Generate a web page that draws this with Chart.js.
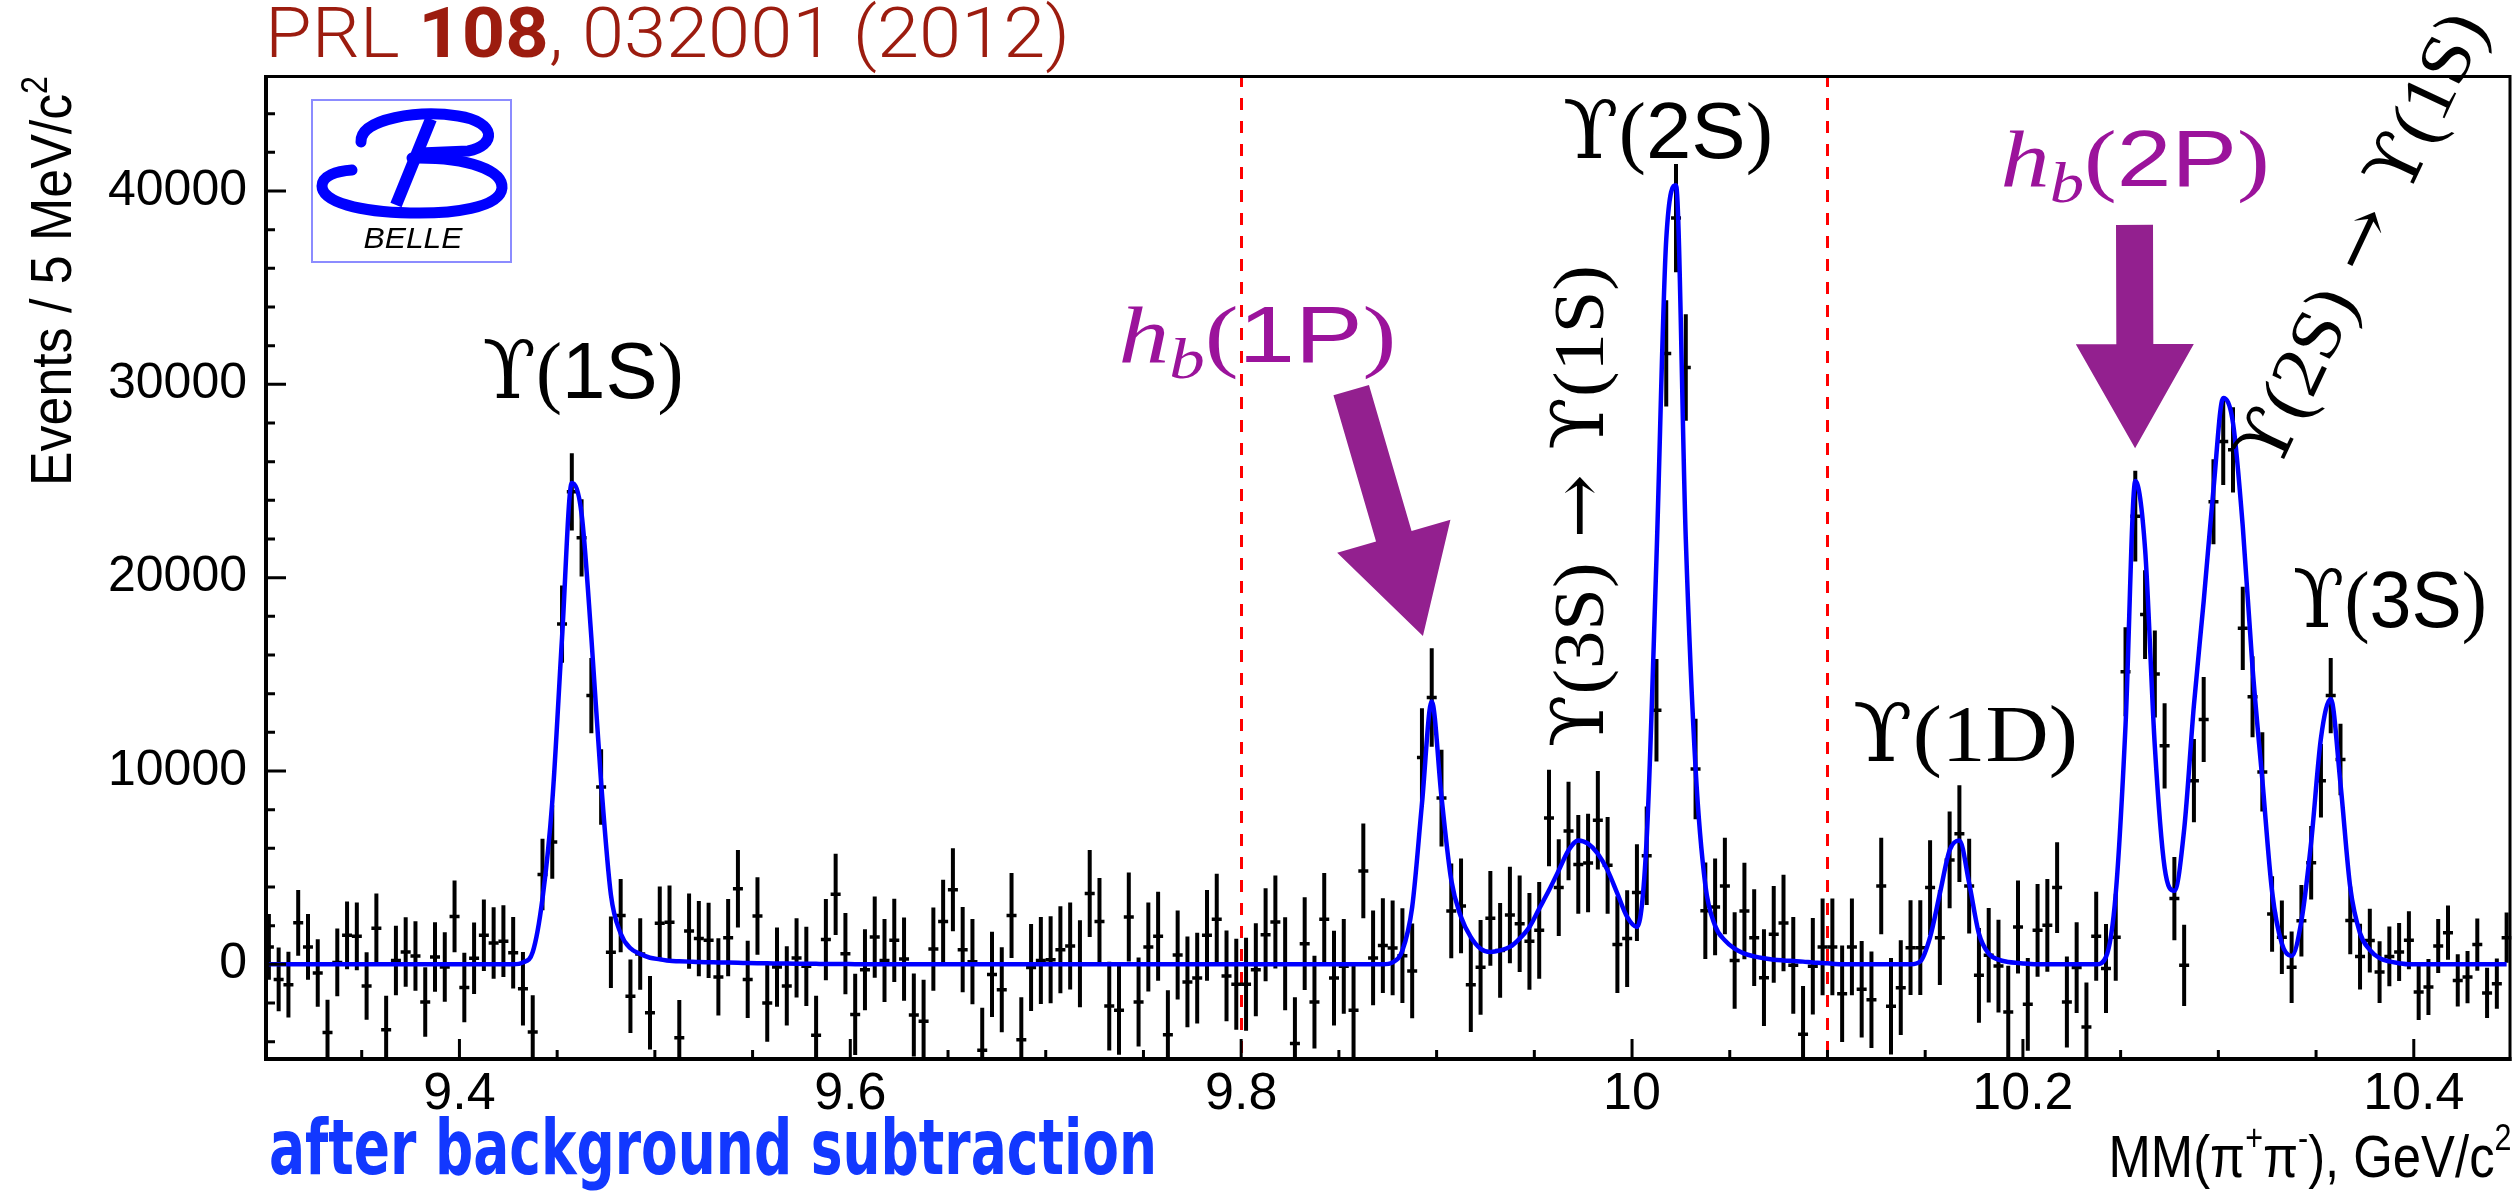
<!DOCTYPE html>
<html>
<head>
<meta charset="utf-8">
<script src="https://cdn.jsdelivr.net/npm/chart.js@4.4.1/dist/chart.umd.min.js"></script>
<style>
  html, body { margin: 0; padding: 0; background: #fff; }
  #wrap { width: 2520px; height: 1191px; position: relative; }
</style>
</head>
<body>
<div id="wrap"><canvas id="Chart"></canvas></div>
<script>
// MM(pi+ pi-) spectrum after background subtraction, 5 MeV bins from 9.300 to 10.450 GeV/c2
const binStart = 9.3;
const binWidth = 0.005;

// events per bin
const events = [
  900, -780, -1050, 2150, 900, -450, -3530, 100, 1500, 1450,
  -1120, 1860, -3380, 200, 640, 430, -1950, 380, -140, 2480,
  -1200, 310, 1500, 1100, 1200, 600, -1260, -3500, 4650, 6330,
  17600, 24440, 22060, 13900, 9170, 630, 2520, -1650, 540, -2500,
  2120, 2180, -3800, 1720, 1330, 1240, -650, 1380, 3910, -780,
  2500, -2000, -140, -1120, 330, -100, -3670, 1280, 3620, 550,
  -2590, -280, 1410, 200, 1240, 270, -2620, -2950, 790, 2220,
  3860, 760, 140, -4450, -520, -1310, 2530, -3900, -170, 200,
  240, 760, 950, 30, 3660, 2220, -2160, -2380, 2450, -1950,
  900, 1450, -3640, 480, -910, -710, 1500, 2330, -600, -1030,
  -1030, -280, 1530, 2190, 30, -4100, 1070, -1950, 2330, -710,
  -100, -2380, 4830, 330, 970, 850, 450, -340, 10700, 13800,
  8600, 2760, 3020, -1050, -155, 2380, 720, 2550, 2100, 1190,
  1760, 7570, 3970, 6900, 5170, 5240, 7450, 5120, 1020, 1330,
  3710, 5620, 13140, 31600, 38600, 30870, 10100, 2770, 2970, 4050,
  200, 2760, 1380, -690, 1550, 2140, -50, -3620, -100, 900,
  900, -1520, 900, -1290, -1830, 4050, -2170, -1210, 860, 860,
  3970, 1380, 5400, 6760, 4050, -570, 470, -90, -2470, 1930,
  -2070, 1760, 2020, 3970, -1950, -170, -3240, 1450, -220, 1400,
  15130, 23180, 18090, 15020, 11300, 3400, -50, 9500, 12660, 23930,
  27040, 26610, 17380, 13840, 9950, 2600, 1400, -150, 2250, 5250,
  9500, 13900, 10600, 2270, 400, 1230, -400, 410, 640, 1240,
  -1430, -1170, 950, 1640, -830, -660, 1020, -1480, -1000, 1380
];

// half length of the error bars
const errors = [
  1700, 1650, 1700, 1700, 1700, 1750, 1700, 1750, 1750, 1750,
  1750, 1800, 1750, 1800, 1800, 1800, 1800, 1800, 1800, 1850,
  1800, 1850, 1850, 1850, 1850, 1850, 1900, 1900, 1850, 1900,
  2000, 2000, 2000, 1950, 1950, 1850, 1900, 1900, 1850, 1900,
  1900, 1900, 1950, 1950, 1950, 1950, 2000, 2000, 2000, 2000,
  2000, 2000, 2050, 2050, 2050, 2050, 2050, 2100, 2100, 2100,
  2100, 2100, 2100, 2150, 2150, 2150, 2150, 2150, 2150, 2150,
  2150, 2200, 2200, 2200, 2200, 2200, 2200, 2200, 2250, 2250,
  2250, 2250, 2250, 2250, 2250, 2250, 2300, 2300, 2300, 2300,
  2300, 2300, 2300, 2300, 2350, 2350, 2350, 2350, 2350, 2350,
  2400, 2400, 2400, 2400, 2400, 2400, 2400, 2400, 2400, 2450,
  2450, 2450, 2450, 2450, 2450, 2450, 2450, 2450, 2550, 2550,
  2500, 2450, 2450, 2450, 2450, 2450, 2450, 2500, 2500, 2500,
  2500, 2500, 2500, 2550, 2550, 2550, 2550, 2500, 2500, 2500,
  2500, 2550, 2650, 2750, 2800, 2750, 2600, 2500, 2500, 2500,
  2500, 2500, 2500, 2500, 2500, 2500, 2500, 2500, 2500, 2500,
  2500, 2500, 2500, 2500, 2500, 2500, 2500, 2450, 2450, 2450,
  2450, 2450, 2500, 2500, 2450, 2450, 2450, 2400, 2400, 2400,
  2400, 2400, 2400, 2350, 2350, 2350, 2300, 2300, 2300, 2250,
  2300, 2350, 2300, 2250, 2200, 2150, 2100, 2150, 2200, 2200,
  2250, 2200, 2150, 2100, 2050, 1950, 1900, 1850, 1850, 1900,
  1900, 1950, 1850, 1750, 1700, 1650, 1600, 1550, 1500, 1500,
  1450, 1450, 1400, 1400, 1350, 1350, 1350, 1300, 1300, 1300
];

// fit function sampled at the bin centres
const fitCurve = [
  0, 0, 0, 0, 0, 0, 0, 0, 0, 0,
  0, 0, 0, 0, 0, 0, 0, 0, 0, 0,
  0, 0, 0, 0, 0, 0, 100, 640, 3400, 8400,
  16900, 24900, 23300, 16900, 9400, 3600, 1600, 830, 540, 340,
  260, 180, 160, 140, 120, 110, 100, 90, 80, 70,
  60, 50, 45, 40, 35, 30, 25, 20, 20, 15,
  10, 0, 0, 0, 0, 0, 0, 0, 0, 0,
  0, 0, 0, 0, 0, 0, 0, 0, 0, 0,
  0, 0, 0, 0, 0, 0, 0, 0, 0, 0,
  0, 0, 0, 0, 0, 0, 0, 0, 0, 0,
  0, 0, 0, 0, 0, 0, 0, 0, 0, 0,
  0, 0, 0, 0, 0, 100, 720, 2960, 8300, 13600,
  8650, 4350, 2450, 1410, 810, 640, 720, 900, 1330, 1930,
  2880, 3830, 4860, 5900, 6410, 6240, 5720, 4860, 3660, 2450,
  1930, 6500, 21000, 37500, 40300, 22000, 10150, 4100, 2000, 1240,
  810, 550, 410, 310, 240, 200, 170, 140, 100, 70,
  30, 0, 0, 0, 0, 0, 0, 0, 0, 150,
  1410, 3660, 5900, 6410, 4200, 1590, 550, 240, 120, 70,
  30, 0, 0, 0, 0, 0, 0, 0, 380, 3660,
  12340, 25000, 21500, 11270, 5000, 3800, 6970, 13410, 18780, 24570,
  29290, 28000, 22640, 15340, 9550, 3760, 1070, 430, 2250, 6330,
  11700, 13730, 9330, 3970, 1610, 750, 320, 150, 60, 0,
  0, 0, 0, 0, 0, 0, 0, 0, 0, 0
];

const xTickValues = [9.4, 9.6, 9.8, 10.0, 10.2, 10.4];
const xTickLabels = ["9.4", "9.6", "9.8", "10", "10.2", "10.4"];
const yTickValues = [0, 10000, 20000, 30000, 40000];
const yTickLabels = ["0", "10000", "20000", "30000", "40000"];
const cutLines = [9.8, 10.1];

const binCenters = events.map((_, i) => +(binStart + binWidth * (i + 0.5)).toFixed(4));

const PURPLE = "#9b139b";
const ARROW = "#93208f";

function fontOf(p, size) {
  return (p.it ? "italic " : "") + (p.w || 400) + " " + Math.round(size * (p.s || 1)) + "px " + p.f;
}
function measureRich(ctx, parts, size) {
  let w = 0;
  parts.forEach(p => { ctx.font = fontOf(p, size); w += ctx.measureText(p.t).width; });
  return w;
}
// draw a row of text pieces with their own font / shift; fitW squeezes to a width
function drawRich(ctx, parts, x, y, size, align, fitW) {
  const natural = measureRich(ctx, parts, size);
  const sx = fitW ? fitW / natural : 1;
  const total = natural * sx;
  const start = align === "center" ? x - total / 2 : align === "right" ? x - total : x;
  ctx.save();
  ctx.translate(start, y);
  ctx.scale(sx, 1);
  ctx.textAlign = "left";
  ctx.textBaseline = "alphabetic";
  let cx = 0;
  parts.forEach(p => {
    ctx.font = fontOf(p, size);
    ctx.fillStyle = p.c || "#000";
    ctx.fillText(p.t, cx, (p.dy || 0) * size);
    cx += ctx.measureText(p.t).width;
  });
  ctx.restore();
}

function drawArrow(ctx, x0, y0, x1, y1, shaftW, headW, headL, color) {
  const ang = Math.atan2(y1 - y0, x1 - x0);
  const len = Math.hypot(x1 - x0, y1 - y0);
  ctx.save();
  ctx.translate(x0, y0);
  ctx.rotate(ang);
  ctx.beginPath();
  ctx.moveTo(0, -shaftW / 2);
  ctx.lineTo(len - headL, -shaftW / 2);
  ctx.lineTo(len - headL, -headW / 2);
  ctx.lineTo(len, 0);
  ctx.lineTo(len - headL, headW / 2);
  ctx.lineTo(len - headL, shaftW / 2);
  ctx.lineTo(0, shaftW / 2);
  ctx.closePath();
  ctx.fillStyle = color;
  ctx.fill();
  ctx.restore();
}

const SERIF = "'DejaVu Serif', 'Liberation Serif', serif";
const SANS = "'Liberation Sans', Arial, sans-serif";
const TIMES = "'Liberation Serif', serif";

function upsilon(inner, serifInner) {
  return [
    { t: "\u03D2", f: SERIF },
    { t: "(", f: TIMES },
    { t: inner, f: serifInner ? TIMES : SANS },
    { t: ")", f: TIMES }
  ];
}
function hb(inner) {
  return [
    { t: "h", f: TIMES, it: true, c: PURPLE },
    { t: "b", f: TIMES, it: true, s: 0.7, dy: 0.2, c: PURPLE },
    { t: "(", f: TIMES, c: PURPLE },
    { t: inner, f: SANS, c: PURPLE },
    { t: ")", f: TIMES, c: PURPLE }
  ];
}
function transition(from) {
  return upsilon(from, true).concat([{ t: " \u2192 ", f: SERIF }], upsilon("1S", true));
}

// red dashed lines and error bars below the markers
const underlay = {
  id: "underlay",
  beforeDatasetsDraw(chart) {
    const { ctx, chartArea: a, scales: { x, y } } = chart;
    ctx.save();
    ctx.beginPath();
    ctx.rect(a.left, a.top, a.right - a.left, a.bottom - a.top);
    ctx.clip();
    ctx.strokeStyle = "#ff0000";
    ctx.lineWidth = 3;
    ctx.setLineDash([12, 11]);
    cutLines.forEach(v => {
      const px = Math.round(x.getPixelForValue(v)) + 0.5;
      ctx.beginPath();
      ctx.moveTo(px, a.top);
      ctx.lineTo(px, a.bottom);
      ctx.stroke();
    });
    ctx.setLineDash([]);
    ctx.strokeStyle = "#000";
    ctx.lineWidth = 4;
    ctx.beginPath();
    events.forEach((v, i) => {
      const px = x.getPixelForValue(binCenters[i]);
      ctx.moveTo(px, y.getPixelForValue(v - errors[i]));
      ctx.lineTo(px, y.getPixelForValue(v + errors[i]));
    });
    ctx.stroke();
    ctx.restore();
  }
};

// frame, inward ticks, labels, arrows and logo
const decorations = {
  id: "decorations",
  afterDraw(chart) {
    const { ctx, chartArea: a, scales: { x, y } } = chart;
    ctx.save();
    // frame
    ctx.strokeStyle = "#000";
    ctx.lineWidth = 3;
    ctx.beginPath();
    ctx.moveTo(a.left, a.top + 1.5); ctx.lineTo(a.right - 1.5, a.top + 1.5); ctx.lineTo(a.right - 1.5, a.bottom);
    ctx.stroke();
    ctx.lineWidth = 4;
    ctx.beginPath();
    ctx.moveTo(a.left + 2, a.top); ctx.lineTo(a.left + 2, a.bottom - 2); ctx.lineTo(a.right, a.bottom - 2);
    ctx.stroke();
    // ticks
    ctx.lineWidth = 3;
    ctx.beginPath();
    for (let k = 0; k <= 23; k++) {
      const v = +(9.3 + 0.05 * k).toFixed(2);
      if (v <= 9.3 || v >= 10.45) continue;
      const major = xTickValues.some(t => Math.abs(t - v) < 1e-6);
      const px = x.getPixelForValue(v);
      ctx.moveTo(px, a.bottom);
      ctx.lineTo(px, a.bottom - (major ? 22 : 11));
    }
    for (let v = -4000; v < 46000; v += 2000) {
      const major = v % 10000 === 0;
      const py = y.getPixelForValue(v);
      ctx.moveTo(a.left, py);
      ctx.lineTo(a.left + (major ? 22 : 11), py);
    }
    ctx.stroke();

    // title
    drawRich(ctx, [
      { t: "PRL ", f: "Roboto, " + SANS, w: 300, c: "#9c1c0f" },
      { t: "108", f: "Roboto, " + SANS, w: 700, c: "#9c1c0f" },
      { t: ", 032001 (2012)", f: "Roboto, " + SANS, w: 300, c: "#9c1c0f" }
    ], 265, 57, 70, "left", 805);

    // y axis title
    ctx.save();
    ctx.translate(71, 486);
    ctx.rotate(-Math.PI / 2);
    drawRich(ctx, [
      { t: "Events / 5 MeV/c", f: SANS },
      { t: "2", f: SANS, s: 0.62, dy: -0.42 }
    ], 0, 0, 58, "left", 410);
    ctx.restore();

    // x axis title
    drawRich(ctx, [
      { t: "MM(\u03C0", f: SANS },
      { t: "+", f: SANS, s: 0.6, dy: -0.45 },
      { t: "\u03C0", f: SANS },
      { t: "-", f: SANS, s: 0.6, dy: -0.45 },
      { t: "), GeV/c", f: SANS },
      { t: "2", f: SANS, s: 0.6, dy: -0.45 }
    ], a.right, 1177, 60, "right", 403);

    // after background subtraction
    drawRich(ctx, [{ t: "after background subtraction", f: "'DejaVu Sans', sans-serif", w: 700, c: "#1238ff" }],
      269, 1174, 76, "left", 888);

    // peak labels
    const X = v => x.getPixelForValue(v);
    const Y = v => y.getPixelForValue(v);
    drawRich(ctx, upsilon("1S"), X(9.4632), Y(29300), 80, "center", 201);
    drawRich(ctx, upsilon("2S"), X(10.0183), Y(41700), 80, "center", 210);
    drawRich(ctx, upsilon("3S"), X(10.3877), Y(17450), 80, "center", 194);
    drawRich(ctx, upsilon("1D", true), X(10.1705), Y(10500), 80, "center", 225);
    drawRich(ctx, hb("1P"), X(9.8083), Y(31150), 80, "center", 278);
    drawRich(ctx, hb("2P"), X(10.2574), Y(40250), 80, "center", 269);

    // transitions, rotated
    ctx.save();
    ctx.translate(X(9.9759), Y(23700));
    ctx.rotate(-Math.PI / 2);
    drawRich(ctx, transition("3S"), 0, 0.25 * 72, 72, "center", 482);
    ctx.restore();
    ctx.save();
    ctx.translate(X(10.3759), Y(37400));
    ctx.rotate(-64.8 * Math.PI / 180);
    drawRich(ctx, transition("2S"), 0, 0.25 * 72, 72, "center", 493);
    ctx.restore();

    // arrows towards the h_b peaks
    drawArrow(ctx, X(9.8563), Y(29700), X(9.8930), Y(16980), 37, 118, 104, ARROW);
    drawArrow(ctx, X(10.2571), Y(38250), X(10.2574), Y(26700), 37, 118, 104, ARROW);

    // BELLE logo
    ctx.strokeStyle = "#8c8cff";
    ctx.lineWidth = 2;
    ctx.strokeRect(312, 100, 199, 162);
    ctx.strokeStyle = "#0000ff";
    ctx.lineCap = "round";
    ctx.lineWidth = 11;
    ctx.beginPath();
    ctx.moveTo(361, 142);
    ctx.bezierCurveTo(360, 118, 420, 110, 458, 116);
    ctx.bezierCurveTo(498, 122, 496, 146, 468, 151);
    ctx.lineTo(420, 153);
    ctx.stroke();
    ctx.beginPath();
    ctx.moveTo(412, 158);
    ctx.bezierCurveTo(470, 157, 503, 171, 502, 188);
    ctx.bezierCurveTo(500, 208, 452, 214, 410, 213);
    ctx.bezierCurveTo(360, 212, 322, 202, 322, 186);
    ctx.bezierCurveTo(322, 176, 336, 171, 352, 170);
    ctx.stroke();
    ctx.lineWidth = 12;
    ctx.lineCap = "butt";
    ctx.beginPath();
    ctx.moveTo(431, 119);
    ctx.lineTo(396, 205);
    ctx.stroke();
    drawRich(ctx, [{ t: "BELLE", f: SANS, it: true }], 413, 248, 29, "center", 99);
    ctx.restore();
  }
};

const ctx = document.querySelector("#Chart");
const chart = new Chart(ctx, {
  type: "scatter",
  data: {
    datasets: [
      {
        label: "fit",
        type: "line",
        data: binCenters.map((m, i) => ({ x: m, y: fitCurve[i] })),
        borderColor: "#0000ff",
        borderWidth: 4.5,
        pointRadius: 0,
        cubicInterpolationMode: "monotone",
        fill: false,
        order: 0
      },
      {
        label: "data",
        data: binCenters.map((m, i) => ({ x: m, y: events[i] })),
        pointStyle: "line",
        pointRadius: 5,
        borderColor: "#000",
        backgroundColor: "#000",
        borderWidth: 3.5,
        order: 1
      }
    ]
  },
  options: {
    responsive: true,
    maintainAspectRatio: false,
    animation: false,
    devicePixelRatio: 1,
    events: [],
    layout: { padding: { top: 75, right: 6, left: 0, bottom: 0 } },
    plugins: { legend: { display: false }, tooltip: { enabled: false } },
    scales: {
      x: {
        type: "linear",
        min: 9.3,
        max: 10.45,
        grid: { display: false, drawTicks: false },
        border: { display: false },
        afterBuildTicks: s => { s.ticks = xTickValues.map(v => ({ value: v })); },
        afterFit: s => { s.height = 130; },
        ticks: {
          color: "#000",
          padding: 2,
          maxRotation: 0,
          autoSkip: false,
          font: { family: "'Liberation Sans', Arial, sans-serif", size: 52 },
          callback: (v, i) => xTickLabels[i]
        }
      },
      y: {
        min: -5000,
        max: 46000,
        grid: { display: false, drawTicks: false },
        border: { display: false },
        afterBuildTicks: s => { s.ticks = yTickValues.map(v => ({ value: v })); },
        afterFit: s => { s.width = 264; },
        ticks: {
          color: "#000",
          padding: 17,
          font: { family: "'Liberation Sans', Arial, sans-serif", size: 50 },
          callback: (v, i) => yTickLabels[i]
        }
      }
    }
  },
  plugins: [underlay, decorations]
});
</script>
</body>
</html>
